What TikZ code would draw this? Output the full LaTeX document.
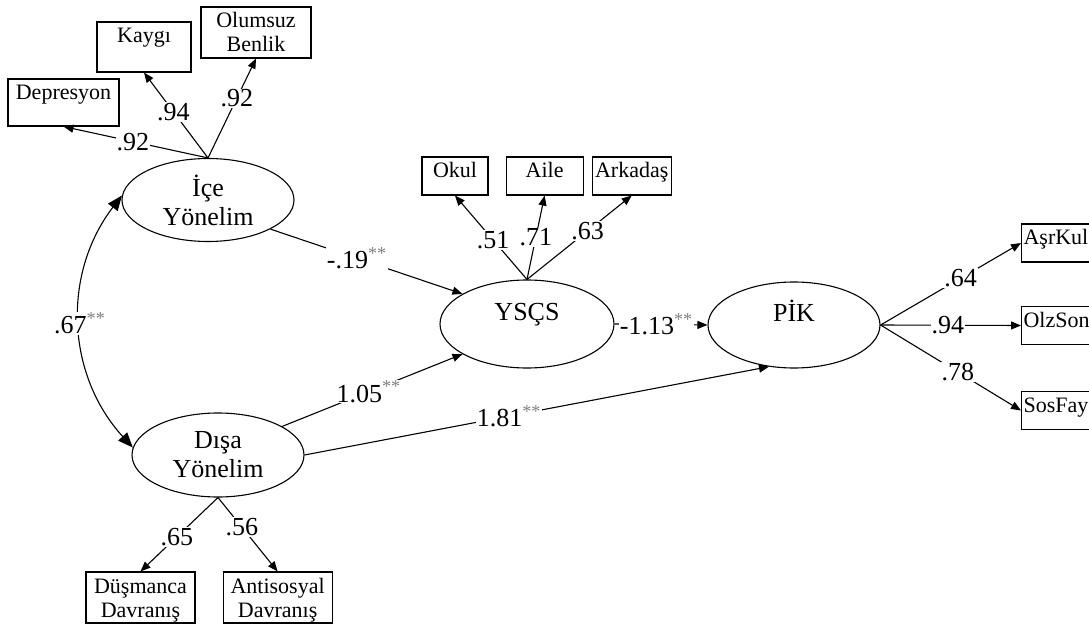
\documentclass[tikz,border=0pt]{standalone}
\usepackage{fontspec}
\setmainfont{Liberation Serif}
\usetikzlibrary{arrows.meta,positioning,shapes}
\newcommand{\sig}{\textsuperscript{\textcolor{gray}{**}}}

\begin{document}
\begin{tikzpicture}
	[ x=1pt, y=-1pt, node distance=17pt and 17pt,
		latent/.style={ellipse,draw,line width=1.1pt,minimum width=172pt,minimum height=83pt,inner sep=0pt,align=center,font=\fontsize{26}{29}\selectfont},
		indicator/.style={rectangle,draw,line width=1.1pt,inner xsep=0pt,inner ysep=0pt,text height=21pt,align=center,font=\fontsize{22}{24}\selectfont},
		loading/.style={fill=white,inner sep=1pt,font=\fontsize{26}{29}\selectfont},
		arrowOut/.style={-{Triangle[length=10pt,width=8pt]},line width=1.1pt},
		arrowBoth/.style={{Triangle[length=15pt,width=12pt]}-{Triangle[length=15pt,width=12pt]},line width=1.1pt}]

	\useasboundingbox (0,0) rectangle (1089,628);

	% latent variables
	\node[latent] (ice) at (208,200) {İçe\\Yönelim};
	\node[latent,minimum height=84pt] (disa) at (218,455) {Dışa\\Yönelim};
	\node[latent,minimum width=174pt,minimum height=88pt,text height=17pt,text depth=25pt] (yscs) at (527,324) {YSÇS};
	\node[latent,minimum height=86pt,text height=17pt,text depth=25pt] (pik) at (794,325) {PİK};

	% indicators
	\node[indicator,minimum width=111pt,text depth=26pt] (depresyon) at (63.5,102.5) {Depresyon};
	\node[indicator,minimum width=94pt,text depth=29pt] (kaygi) at (144,47) {Kaygı};
	\node[indicator,minimum width=110pt,text height=45pt,text depth=6pt] (olumsuz) at (256,32.5) {Olumsuz\\Benlik};
	\node[indicator,minimum width=66pt,text depth=17pt] (okul) at (455,176) {Okul};
	\node[indicator,minimum width=77pt,text depth=17pt] (aile) [right=of okul] {Aile};
	\node[indicator,minimum width=79pt,text depth=17pt] (arkadas) [right=8pt of aile] {Arkadaş};
	\node[indicator,minimum width=109pt,text height=45pt,text depth=6pt] (dusmanca) at (140.5,597.5) {Düşmanca\\Davranış};
	\node[indicator,minimum width=109pt,text height=45pt,text depth=6pt] (antisosyal) [right=27pt of dusmanca] {Antisosyal\\Davranış};
	\node[indicator,anchor=west,text width=80pt,align=left,inner xsep=2pt,text depth=17pt] (asrkul) at (1021,243) {AşrKul};
	\node[indicator,anchor=west,text width=80pt,align=left,inner xsep=2pt,text depth=17pt] (olzson) at (1021,325.5) {OlzSon};
	\node[indicator,anchor=west,text width=80pt,align=left,inner xsep=2pt,text depth=17pt] (sosfay) at (1021,410.5) {SosFay};

	\draw[arrowOut] (ice.north) -- node[loading,pos=0.52] {.92} (depresyon.south);
	\draw[arrowOut] (ice.north) -- node[loading,pos=0.54] {.94} (kaygi.south);
	\draw[arrowOut] (ice.north) -- node[loading,pos=0.6] {.92} (olumsuz.south);
	\draw[arrowBoth] (ice.177) to[bend right=40] node[loading] {.67\sig} (disa.175);
	\draw[arrowOut] (ice.-25) -- node[loading,pos=0.45] {-.19\sig} (yscs.155);
	\draw[arrowOut] (disa.24) -- node[loading,pos=0.48] {1.05\sig} (yscs.205);
	\draw[arrowOut] (disa.east) -- node[loading,pos=0.44] {1.81\sig} (pik.239);
	\draw[arrowOut] (disa.south) -- node[loading,pos=0.53] {.65} (dusmanca.north);
	\draw[arrowOut] (disa.south) -- node[loading,pos=0.4] {.56} (antisosyal.north);
	\draw[arrowOut] (yscs.north) -- node[loading,pos=0.47] {.51} (okul.south);
	\draw[arrowOut] (yscs.north) -- node[loading,pos=0.5] {.71} (aile.south);
	\draw[arrowOut] (yscs.north) -- node[loading,pos=0.58] {.63} (arkadas.south);
	\draw[arrowOut] (yscs.east) -- node[loading,pos=0.45] {-1.13\sig} (pik.west);
	\draw[arrowOut] (pik.east) -- node[loading,pos=0.57] {.64} (asrkul.west);
	\draw[arrowOut] (pik.east) -- node[loading,pos=0.48] {.94} (olzson.west);
	\draw[arrowOut] (pik.east) -- node[loading,pos=0.55] {.78} (sosfay.west);
\end{tikzpicture}
\end{document}
